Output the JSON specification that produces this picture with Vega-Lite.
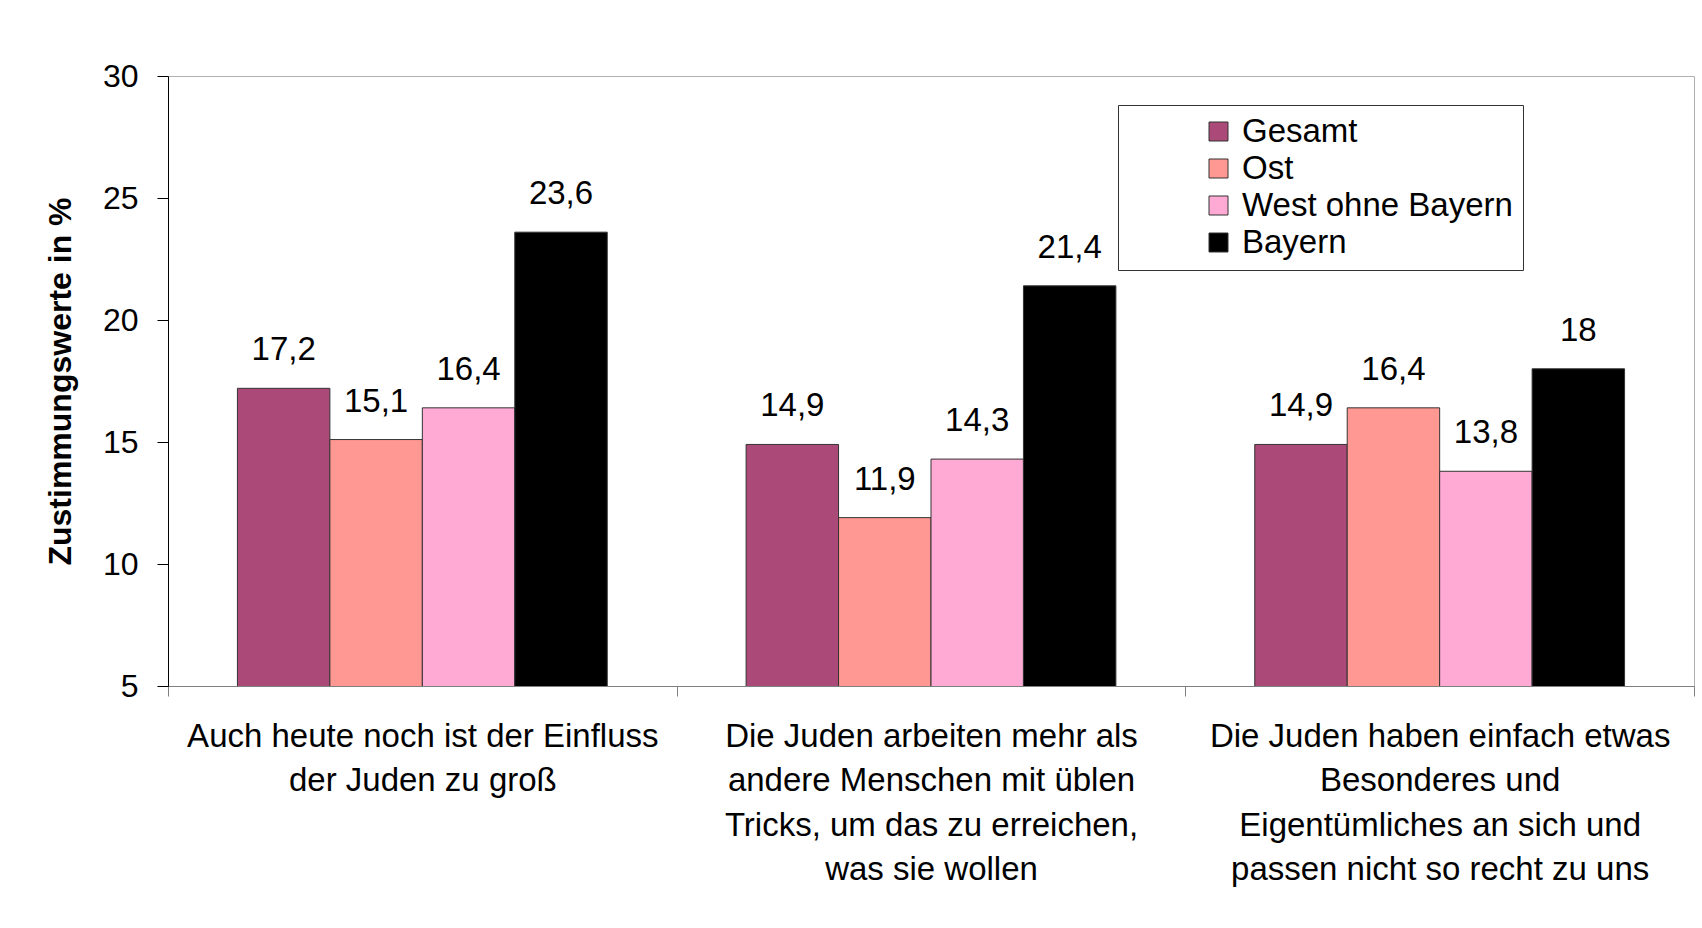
{
  "$schema": "https://vega.github.io/schema/vega-lite/v6.json",
  "width": 1526,
  "height": 610,
  "autosize": {"type": "none"},
  "padding": {"left": 168, "top": 76, "right": 8, "bottom": 242},
  "background": "white",
  "config": {
    "font": "Liberation Sans",
    "view": {"stroke": "#B0B0B0", "strokeWidth": 1},
    "locale": {"number": {"decimal": ",", "thousands": ".", "grouping": [3], "currency": ["", " €"]}}
  },
  "data": {
    "values": [
      {"aussage": "Auch heute noch ist der Einfluss|der Juden zu groß", "gruppe": "Gesamt", "wert": 17.2},
      {"aussage": "Auch heute noch ist der Einfluss|der Juden zu groß", "gruppe": "Ost", "wert": 15.1},
      {"aussage": "Auch heute noch ist der Einfluss|der Juden zu groß", "gruppe": "West ohne Bayern", "wert": 16.4},
      {"aussage": "Auch heute noch ist der Einfluss|der Juden zu groß", "gruppe": "Bayern", "wert": 23.6},
      {"aussage": "Die Juden arbeiten mehr als|andere Menschen mit üblen|Tricks, um das zu erreichen,|was sie wollen", "gruppe": "Gesamt", "wert": 14.9},
      {"aussage": "Die Juden arbeiten mehr als|andere Menschen mit üblen|Tricks, um das zu erreichen,|was sie wollen", "gruppe": "Ost", "wert": 11.9},
      {"aussage": "Die Juden arbeiten mehr als|andere Menschen mit üblen|Tricks, um das zu erreichen,|was sie wollen", "gruppe": "West ohne Bayern", "wert": 14.3},
      {"aussage": "Die Juden arbeiten mehr als|andere Menschen mit üblen|Tricks, um das zu erreichen,|was sie wollen", "gruppe": "Bayern", "wert": 21.4},
      {"aussage": "Die Juden haben einfach etwas|Besonderes und|Eigentümliches an sich und|passen nicht so recht zu uns", "gruppe": "Gesamt", "wert": 14.9},
      {"aussage": "Die Juden haben einfach etwas|Besonderes und|Eigentümliches an sich und|passen nicht so recht zu uns", "gruppe": "Ost", "wert": 16.4},
      {"aussage": "Die Juden haben einfach etwas|Besonderes und|Eigentümliches an sich und|passen nicht so recht zu uns", "gruppe": "West ohne Bayern", "wert": 13.8},
      {"aussage": "Die Juden haben einfach etwas|Besonderes und|Eigentümliches an sich und|passen nicht so recht zu uns", "gruppe": "Bayern", "wert": 18}
    ]
  },
  "encoding": {
    "x": {
      "field": "aussage",
      "type": "nominal",
      "sort": null,
      "scale": {"paddingInner": 0, "paddingOuter": 0},
      "axis": {
        "title": null,
        "labelAngle": 0,
        "labelExpr": "split(datum.label, '|')",
        "labelFontSize": 33,
        "labelLineHeight": 44.5,
        "labelColor": "#000000",
        "labelBaseline": "top",
        "labelPadding": 24,
        "labelLimit": 0,
        "tickBand": "extent",
        "tickSize": 10,
        "tickColor": "#808080",
        "domainColor": "#808080",
        "grid": false
      }
    },
    "xOffset": {
      "field": "gruppe",
      "type": "nominal",
      "scale": {"domain": ["Gesamt", "Ost", "West ohne Bayern", "Bayern"], "paddingInner": 0, "paddingOuter": 0.751}
    },
    "y": {
      "field": "wert",
      "type": "quantitative",
      "scale": {"domain": [5, 30], "nice": false, "zero": false},
      "axis": {
        "title": "Zustimmungswerte in %",
        "titleFontSize": 32,
        "titleFontWeight": "bold",
        "titleColor": "#000000",
        "titleX": -108,
        "titleY": 305,
        "titleBaseline": "middle",
        "titleAngle": -90,
        "values": [5, 10, 15, 20, 25, 30],
        "labelFontSize": 32,
        "labelColor": "#000000",
        "labelPadding": 19,
        "tickSize": 11,
        "tickColor": "#000000",
        "domainColor": "#000000",
        "grid": false
      }
    }
  },
  "layer": [
    {
      "mark": {"type": "bar", "stroke": "#333333", "strokeWidth": 1, "clip": true},
      "encoding": {
        "color": {
          "field": "gruppe",
          "type": "nominal",
          "scale": {
            "domain": ["Gesamt", "Ost", "West ohne Bayern", "Bayern"],
            "range": ["#AB4A78", "#FF9892", "#FFAAD5", "#000000"]
          },
          "legend": {
            "orient": "none",
            "legendX": 950,
            "legendY": 29,
            "title": null,
            "padding": 10,
            "symbolOffset": 74,
            "symbolType": "square",
            "symbolSize": 361,
            "symbolStrokeColor": "#333333",
            "symbolStrokeWidth": 1,
            "labelFontSize": 33,
            "labelColor": "#000000",
            "labelOffset": 7,
            "labelLimit": 0,
            "rowPadding": 3,
            "strokeColor": "#333333",
            "fillColor": "#FFFFFF"
          }
        }
      }
    },
    {
      "mark": {"type": "text", "dy": -28, "baseline": "alphabetic", "fontSize": 33, "color": "#000000"},
      "encoding": {
        "text": {"field": "wert", "type": "quantitative", "format": ".1~f"}
      }
    }
  ]
}
